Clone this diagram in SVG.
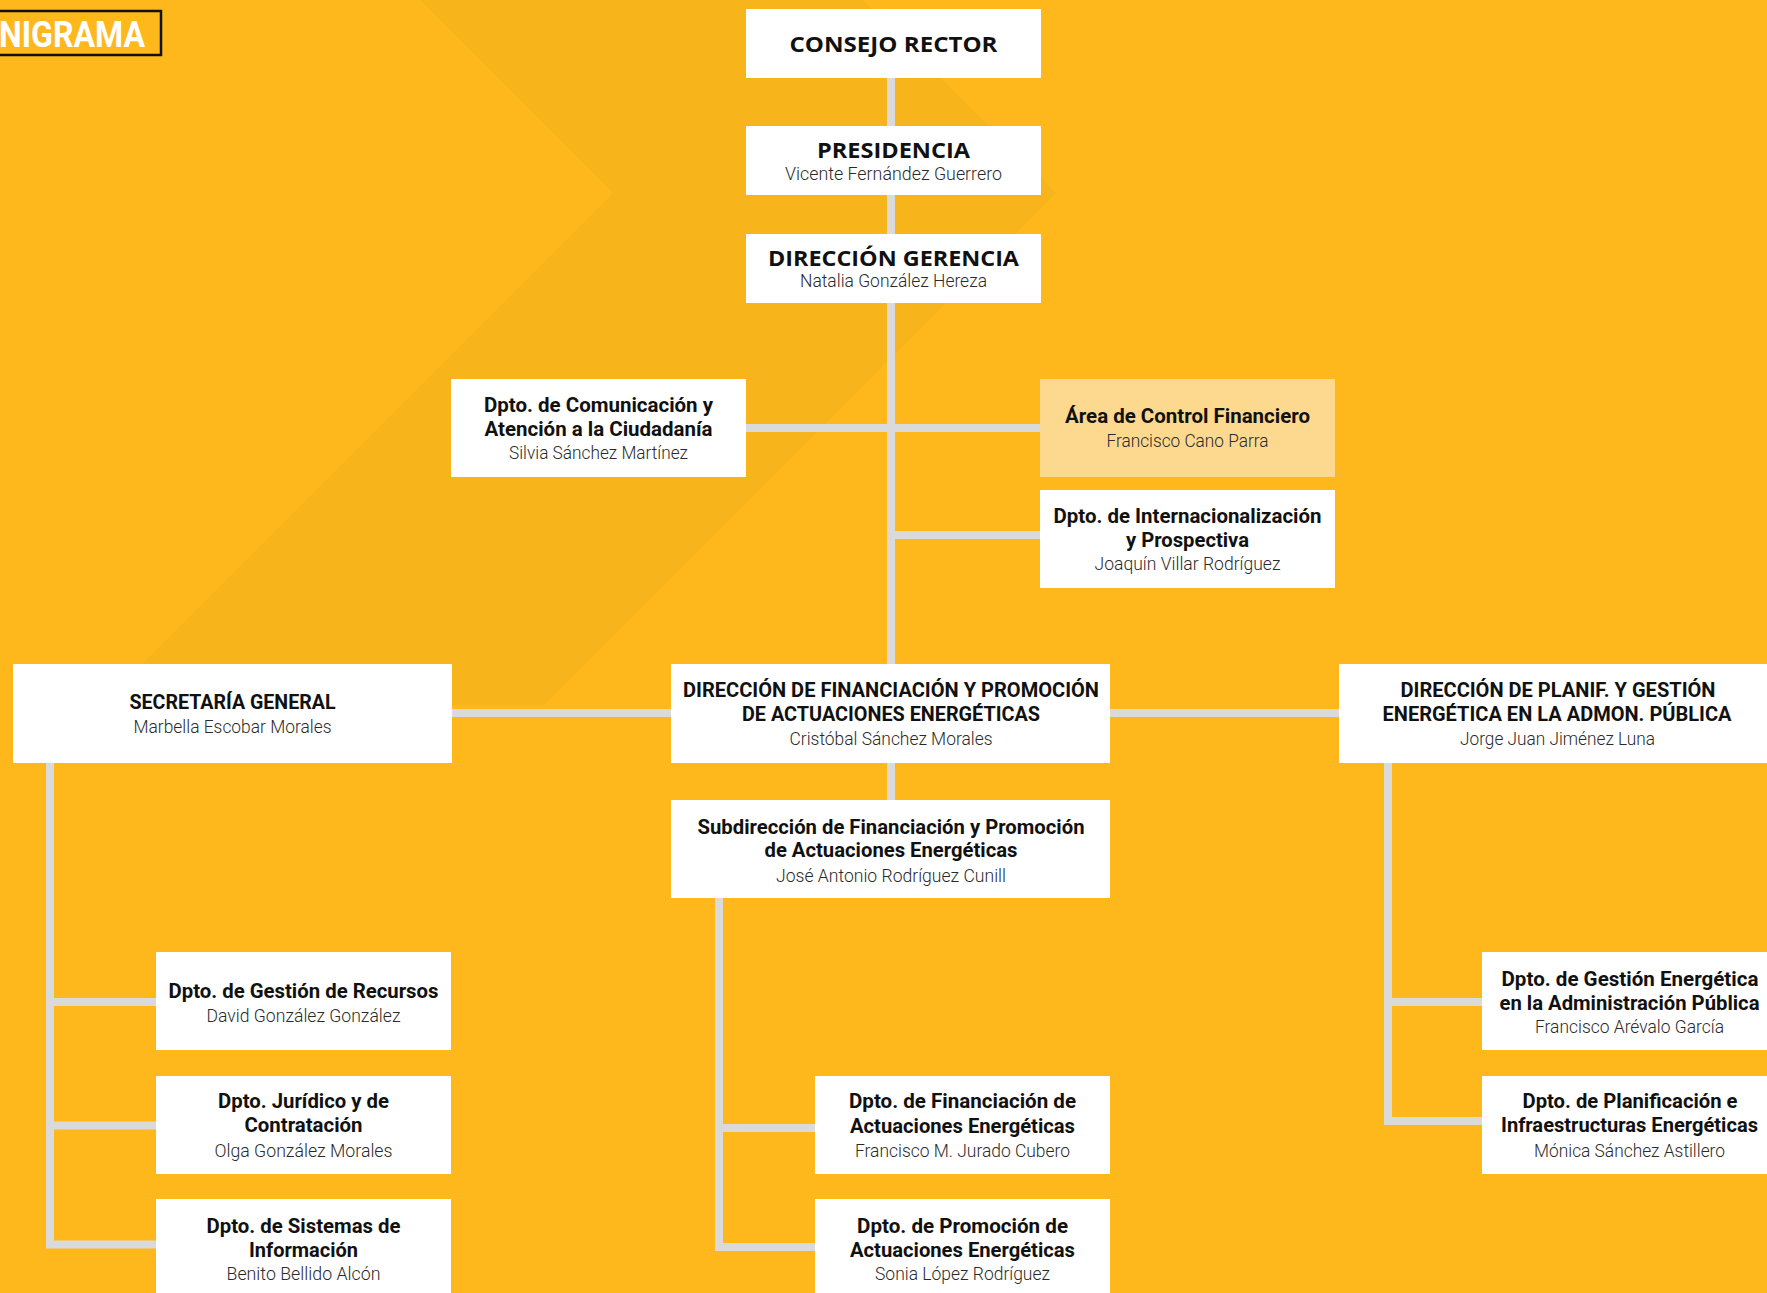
<svg xmlns="http://www.w3.org/2000/svg" width="1767" height="1293" viewBox="0 0 1767 1293">
<style>
.box{fill:#ffffff}
.hl{fill:#fcd98f}
.t{font-family:Roboto,"Liberation Sans",sans-serif;font-weight:700;font-size:20px;fill:#111111;text-anchor:middle}
.n{font-family:Roboto,"Liberation Sans",sans-serif;font-weight:300;font-size:18px;fill:#2a2a2a;text-anchor:middle}
.h{font-family:"Open Sans","Liberation Sans",sans-serif;font-weight:700;font-size:21px;fill:#111111;text-anchor:middle}
.c{fill:none;stroke:#dadada;stroke-width:8;stroke-linejoin:miter;stroke-linecap:butt}
</style>
<rect x="0" y="0" width="1767" height="1293" fill="#feb81b"/>
<polygon points="420,0 863,0 1056,193 544,705 101,705 613,193" fill="#f7b41b"/>
<g id="title">
<rect x="-5" y="11" width="166" height="44" fill="none" stroke="#111" stroke-width="2.5"/>
<text x="-1" y="46.5" font-family="Roboto,'Liberation Sans',sans-serif" font-weight="700" font-size="36" fill="#ffffff" textLength="146" lengthAdjust="spacingAndGlyphs">NIGRAMA</text>
</g>
<g id="connectors">
<path class="c" d="M891 78 V664"/>
<path class="c" d="M746 428 H1040"/>
<path class="c" d="M895 535 H1040"/>
<path class="c" d="M452 713 H1339"/>
<path class="c" d="M891 763 V800"/>
<path class="c" d="M50 763 V1244.5 H156"/>
<path class="c" d="M50 1002 H156"/>
<path class="c" d="M50 1125.5 H156"/>
<path class="c" d="M719 898 V1247 H815"/>
<path class="c" d="M719 1128 H815"/>
<path class="c" d="M1388 763 V1121 H1482"/>
<path class="c" d="M1388 1002 H1482"/>
</g>
<g id="consejo">
<rect class="box" x="746" y="9" width="295" height="69"/>
<text class="h" x="893.5" y="51.5" textLength="208" lengthAdjust="spacingAndGlyphs">CONSEJO RECTOR</text>
</g>
<g id="presidencia">
<rect class="box" x="746" y="126" width="295" height="69"/>
<text class="h" x="893.5" y="158" textLength="153" lengthAdjust="spacingAndGlyphs">PRESIDENCIA</text>
<text class="n" x="893.5" y="180" textLength="217" lengthAdjust="spacingAndGlyphs">Vicente Fernández Guerrero</text>
</g>
<g id="gerencia">
<rect class="box" x="746" y="234" width="295" height="69"/>
<text class="h" x="893.5" y="266" textLength="251" lengthAdjust="spacingAndGlyphs">DIRECCIÓN GERENCIA</text>
<text class="n" x="893.5" y="287" textLength="187" lengthAdjust="spacingAndGlyphs">Natalia González Hereza</text>
</g>
<g id="comunicacion">
<rect class="box" x="451" y="379" width="295" height="98"/>
<text class="t" x="598.5" y="412" textLength="229" lengthAdjust="spacingAndGlyphs">Dpto. de Comunicación y</text>
<text class="t" x="598.5" y="436" textLength="228" lengthAdjust="spacingAndGlyphs">Atención a la Ciudadanía</text>
<text class="n" x="598.5" y="459" textLength="179" lengthAdjust="spacingAndGlyphs">Silvia Sánchez Martínez</text>
</g>
<g id="control">
<rect class="hl" x="1040" y="379" width="295" height="98"/>
<text class="t" x="1187.5" y="423" textLength="245" lengthAdjust="spacingAndGlyphs">Área de Control Financiero</text>
<text class="n" x="1187.5" y="447" textLength="162" lengthAdjust="spacingAndGlyphs">Francisco Cano Parra</text>
</g>
<g id="internacionalizacion">
<rect class="box" x="1040" y="490" width="295" height="98"/>
<text class="t" x="1187.5" y="523" textLength="268" lengthAdjust="spacingAndGlyphs">Dpto. de Internacionalización</text>
<text class="t" x="1187.5" y="547" textLength="123" lengthAdjust="spacingAndGlyphs">y Prospectiva</text>
<text class="n" x="1187.5" y="570" textLength="186" lengthAdjust="spacingAndGlyphs">Joaquín Villar Rodríguez</text>
</g>
<g id="secretaria">
<rect class="box" x="13" y="664" width="439" height="99"/>
<text class="t" x="232.5" y="709" textLength="206" lengthAdjust="spacingAndGlyphs">SECRETARÍA GENERAL</text>
<text class="n" x="232.5" y="733" textLength="198" lengthAdjust="spacingAndGlyphs">Marbella Escobar Morales</text>
</g>
<g id="dir-financiacion">
<rect class="box" x="671" y="664" width="439" height="99"/>
<text class="t" x="891" y="697" textLength="416" lengthAdjust="spacingAndGlyphs">DIRECCIÓN DE FINANCIACIÓN Y PROMOCIÓN</text>
<text class="t" x="891" y="721" textLength="298" lengthAdjust="spacingAndGlyphs">DE ACTUACIONES ENERGÉTICAS</text>
<text class="n" x="891" y="745" textLength="203" lengthAdjust="spacingAndGlyphs">Cristóbal Sánchez Morales</text>
</g>
<g id="dir-planificacion">
<rect class="box" x="1339" y="664" width="439" height="99"/>
<text class="t" x="1558" y="697" textLength="315" lengthAdjust="spacingAndGlyphs">DIRECCIÓN DE PLANIF. Y GESTIÓN</text>
<text class="t" x="1557" y="721" textLength="349" lengthAdjust="spacingAndGlyphs">ENERGÉTICA EN LA ADMON. PÚBLICA</text>
<text class="n" x="1557.5" y="745" textLength="195" lengthAdjust="spacingAndGlyphs">Jorge Juan Jiménez Luna</text>
</g>
<g id="subdireccion">
<rect class="box" x="671" y="800" width="439" height="98"/>
<text class="t" x="891" y="834" textLength="387" lengthAdjust="spacingAndGlyphs">Subdirección de Financiación y Promoción</text>
<text class="t" x="891" y="857" textLength="253" lengthAdjust="spacingAndGlyphs">de Actuaciones Energéticas</text>
<text class="n" x="891" y="881.5" textLength="230" lengthAdjust="spacingAndGlyphs">José Antonio Rodríguez Cunill</text>
</g>
<g id="gestion-recursos">
<rect class="box" x="156" y="952" width="295" height="98"/>
<text class="t" x="303.5" y="998" textLength="270" lengthAdjust="spacingAndGlyphs">Dpto. de Gestión de Recursos</text>
<text class="n" x="303.5" y="1022" textLength="194" lengthAdjust="spacingAndGlyphs">David González González</text>
</g>
<g id="juridico">
<rect class="box" x="156" y="1076" width="295" height="98"/>
<text class="t" x="303.5" y="1108" textLength="171" lengthAdjust="spacingAndGlyphs">Dpto. Jurídico y de</text>
<text class="t" x="303.5" y="1132" textLength="118" lengthAdjust="spacingAndGlyphs">Contratación</text>
<text class="n" x="303.5" y="1156.5" textLength="178" lengthAdjust="spacingAndGlyphs">Olga González Morales</text>
</g>
<g id="sistemas">
<rect class="box" x="156" y="1199" width="295" height="98"/>
<text class="t" x="303.5" y="1232.5" textLength="194" lengthAdjust="spacingAndGlyphs">Dpto. de Sistemas de</text>
<text class="t" x="303.5" y="1256.5" textLength="109" lengthAdjust="spacingAndGlyphs">Información</text>
<text class="n" x="303.5" y="1280" textLength="154" lengthAdjust="spacingAndGlyphs">Benito Bellido Alcón</text>
</g>
<g id="dpto-financiacion">
<rect class="box" x="815" y="1076" width="295" height="98"/>
<text class="t" x="962.5" y="1108" textLength="227" lengthAdjust="spacingAndGlyphs">Dpto. de Financiación de</text>
<text class="t" x="962.5" y="1132.5" textLength="225" lengthAdjust="spacingAndGlyphs">Actuaciones Energéticas</text>
<text class="n" x="962.5" y="1156.5" textLength="215" lengthAdjust="spacingAndGlyphs">Francisco M. Jurado Cubero</text>
</g>
<g id="dpto-promocion">
<rect class="box" x="815" y="1199" width="295" height="98"/>
<text class="t" x="962.5" y="1232.5" textLength="211" lengthAdjust="spacingAndGlyphs">Dpto. de Promoción de</text>
<text class="t" x="962.5" y="1256.5" textLength="225" lengthAdjust="spacingAndGlyphs">Actuaciones Energéticas</text>
<text class="n" x="962.5" y="1280" textLength="175" lengthAdjust="spacingAndGlyphs">Sonia López Rodríguez</text>
</g>
<g id="gestion-energetica">
<rect class="box" x="1482" y="952" width="295" height="98"/>
<text class="t" x="1630" y="986" textLength="257" lengthAdjust="spacingAndGlyphs">Dpto. de Gestión Energética</text>
<text class="t" x="1629.5" y="1010" textLength="260" lengthAdjust="spacingAndGlyphs">en la Administración Pública</text>
<text class="n" x="1629.5" y="1033" textLength="189" lengthAdjust="spacingAndGlyphs">Francisco Arévalo García</text>
</g>
<g id="planificacion">
<rect class="box" x="1482" y="1076" width="295" height="98"/>
<text class="t" x="1630" y="1108" textLength="215" lengthAdjust="spacingAndGlyphs">Dpto. de Planificación e</text>
<text class="t" x="1629.5" y="1132" textLength="257" lengthAdjust="spacingAndGlyphs">Infraestructuras Energéticas</text>
<text class="n" x="1629.5" y="1156.5" textLength="191" lengthAdjust="spacingAndGlyphs">Mónica Sánchez Astillero</text>
</g>
</svg>
